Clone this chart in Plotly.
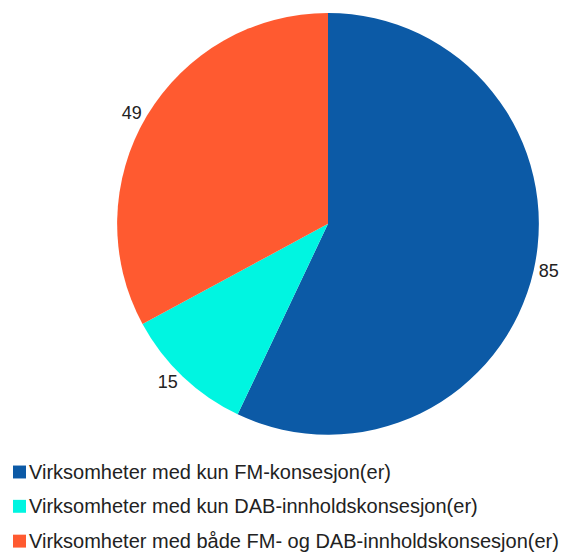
import plotly.graph_objects as go

labels = ["Virksomheter med kun FM-konsesjon(er)",
          "Virksomheter med kun DAB-innholdskonsesjon(er)",
          "Virksomheter med både FM- og DAB-innholdskonsesjon(er)"]
values = [85, 15, 49]
colors = ["#0c5aa6", "#00f5e1", "#ff5a30"]

W, H = 574, 556
OFF = 8  # page body margin


def px(x):
    return (x - OFF) / W


def py(y):
    return 1 - (y - OFF) / H


fig = go.Figure(go.Pie(
    labels=labels, values=values, sort=False, direction="clockwise", rotation=0,
    marker=dict(colors=colors, line=dict(width=0)),
    textinfo="value", textposition="outside",
    textfont=dict(family="Liberation Sans, Arial", size=18, color="#222222"),
    domain=dict(x=[px(116), px(540)], y=[py(434), py(10)]),
    showlegend=False, hoverinfo="label+value",
))

row_y = [471.5, 506, 541]
for lab, col, yy in zip(labels, colors, row_y):
    fig.add_shape(type="rect", xref="paper", yref="paper",
                  x0=px(13), x1=px(26), y0=py(yy + 6.5), y1=py(yy - 6.5),
                  fillcolor=col, line=dict(width=0))
    fig.add_annotation(text=lab, xref="paper", yref="paper", x=px(27), y=py(yy),
                       xanchor="left", yanchor="middle", showarrow=False,
                       font=dict(family="Liberation Sans, Arial", size=20, color="#222222"))

fig.update_layout(width=W, height=H, margin=dict(l=0, r=0, t=0, b=0),
                  paper_bgcolor="white", plot_bgcolor="white")
fig.write_html("out.html")
